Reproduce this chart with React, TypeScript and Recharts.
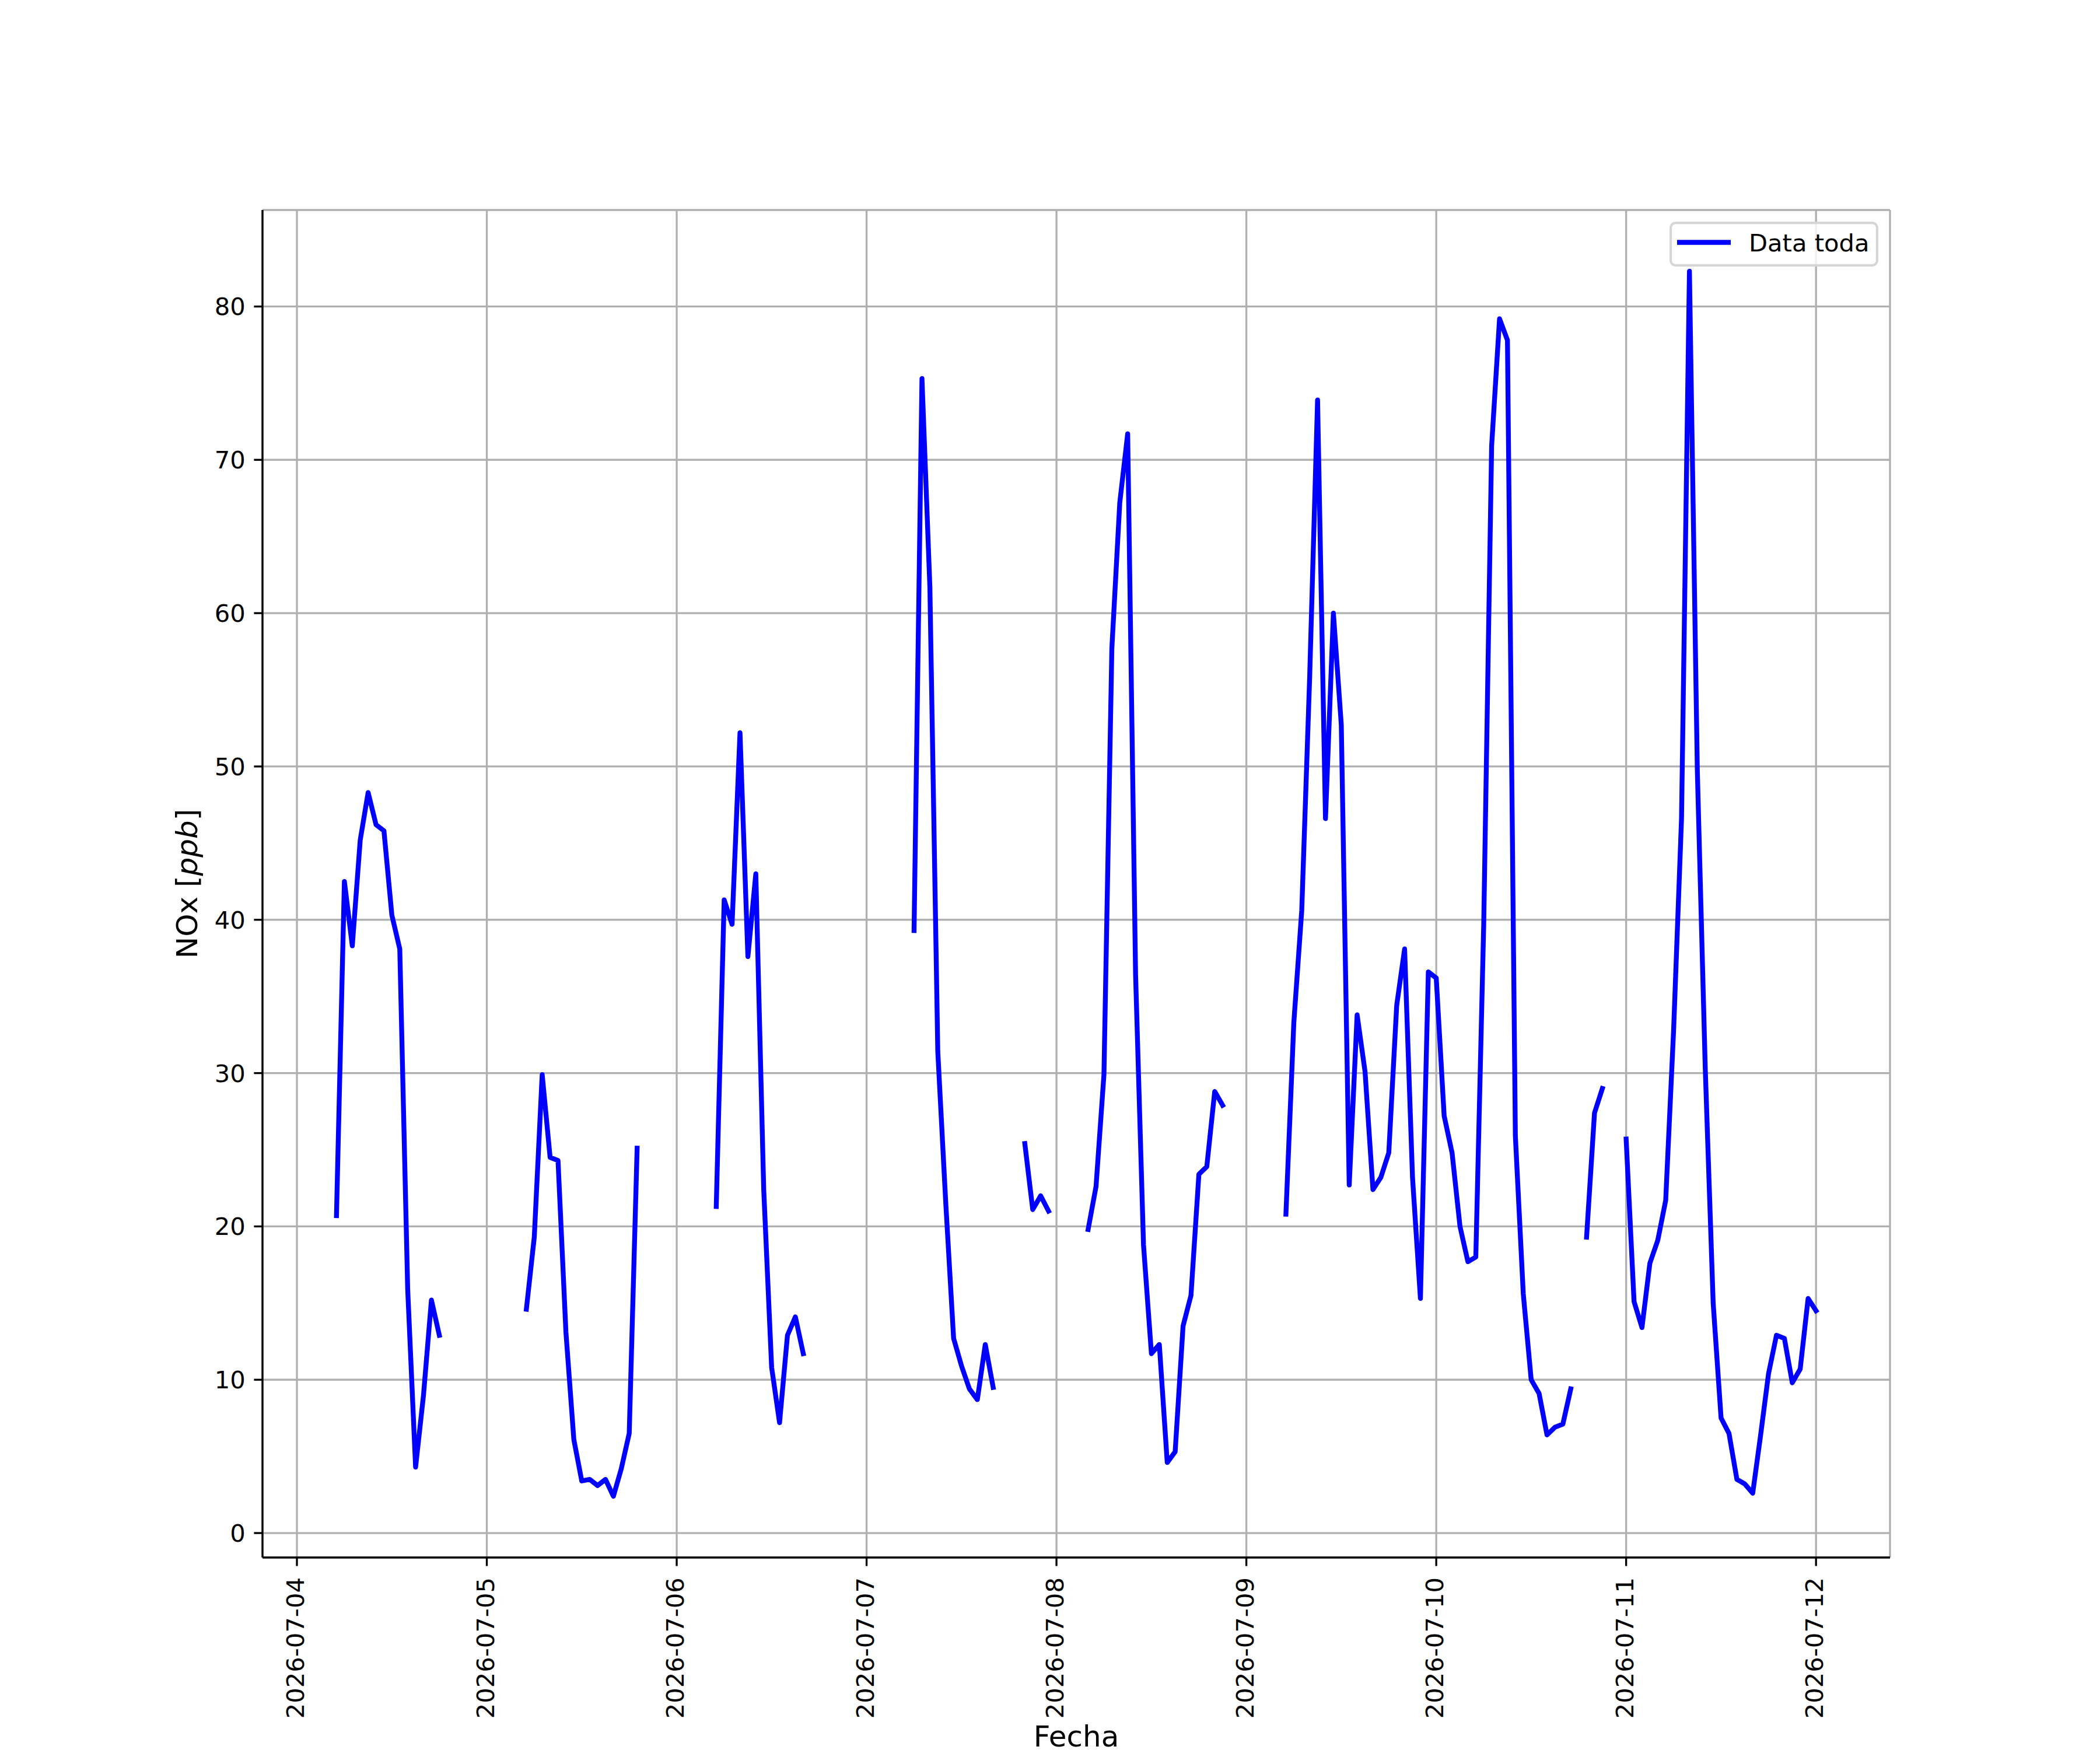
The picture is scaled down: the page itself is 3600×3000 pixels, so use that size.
import React from "react";
import { CartesianGrid, Label, Legend, Line, LineChart, XAxis, YAxis } from "recharts";

const _ = null;

// NOx hourly means (ppb), one array per day, index = hour; null = no data
const nox0704 = [_, _, _, _, _, 20.7, 42.5, 38.3, 45.2, 48.3, 46.2, 45.8, 40.3, 38.1, 15.9, 4.3, 9.0, 15.2, 12.9, _, _, _, _, _];
const nox0705 = [_, _, _, _, _, 14.6, 19.3, 29.9, 24.5, 24.3, 13.1, 6.1, 3.4, 3.5, 3.1, 3.5, 2.4, 4.2, 6.5, 25.1, _, _, _, _];
const nox0706 = [_, _, _, _, _, 21.3, 41.3, 39.7, 52.2, 37.6, 43.0, 22.4, 10.8, 7.2, 12.9, 14.1, 11.7, _, _, _, _, _, _, _];
const nox0707 = [_, _, _, _, _, _, 39.3, 75.3, 61.7, 31.4, 21.6, 12.7, 10.9, 9.4, 8.7, 12.3, 9.5, _, _, _, 25.4, 21.1, 22.0, 21.0];
const nox0708 = [_, _, _, _, 19.8, 22.6, 29.9, 57.7, 67.2, 71.7, 36.4, 18.8, 11.7, 12.3, 4.6, 5.3, 13.5, 15.5, 23.4, 23.9, 28.8, 27.9, _, _];
const nox0709 = [_, _, _, _, _, 20.8, 33.3, 40.6, 55.8, 73.9, 46.6, 60.0, 52.7, 22.7, 33.8, 30.1, 22.4, 23.2, 24.8, 34.4, 38.1, 23.2, 15.3, 36.6];
const nox0710 = [36.2, 27.2, 24.8, 20.0, 17.7, 18.0, 39.7, 70.9, 79.2, 77.8, 25.9, 15.6, 10.0, 9.1, 6.4, 6.9, 7.1, 9.4, _, 19.3, 27.4, 29.0, _, _];
const nox0711 = [25.7, 15.1, 13.4, 17.6, 19.1, 21.7, 32.8, 46.6, 82.3, 49.7, 30.3, 15.0, 7.5, 6.5, 3.5, 3.2, 2.6, 6.4, 10.4, 12.9, 12.7, 9.8, 10.7, 15.3];
const nox0712 = [14.5];

const dayLabels = [
  "2026-07-04", "2026-07-05", "2026-07-06", "2026-07-07", "2026-07-08",
  "2026-07-09", "2026-07-10", "2026-07-11", "2026-07-12",
];
const dayTicks = [0, 1, 2, 3, 4, 5, 6, 7, 8];
const noxTicks = [0, 10, 20, 30, 40, 50, 60, 70, 80];

const days = [nox0704, nox0705, nox0706, nox0707, nox0708, nox0709, nox0710, nox0711, nox0712];
const data = days.flatMap((vals, d) => vals.map((v, h) => ({ t: d + h / 24, nox: v })));

const xDomain = [-0.18125, 8.38958];
const yDomain = [-1.595, 86.295];

const FONT = "DejaVu Sans";
const TICK_FS = 41.67;
const LABEL_FS = 50;
const LW = 3.33;
const DATA_LW = 8.33;
const spine = { stroke: "#000", strokeWidth: LW };

function DateTick(props: any) {
  const { x, y, payload } = props;
  const bx = x + 12;
  return (
    <text x={bx} y={y} transform={`rotate(-90, ${bx}, ${y})`} textAnchor="end"
      fontSize={TICK_FS} fontFamily={FONT} fill="#000">
      {dayLabels[payload.value]}
    </text>
  );
}

function NoxTick(props: any) {
  const { x, y, payload } = props;
  return (
    <text x={x} y={y} dy="0.36em" textAnchor="end" fontSize={TICK_FS} fontFamily={FONT} fill="#000">
      {payload.value}
    </text>
  );
}

function FechaLabel(props: any) {
  const vb = props.viewBox ?? { x: 450, y: 2670, width: 2790, height: 300 };
  return (
    <text x={vb.x + vb.width / 2} y={vb.y + 324} textAnchor="middle" fontSize={LABEL_FS} fontFamily={FONT} fill="#000">
      Fecha
    </text>
  );
}

function NoxLabel(props: any) {
  const vb = props.viewBox ?? { x: 300, y: 360, width: 150, height: 2310 };
  const lx = vb.x + 38;
  const ly = vb.y + vb.height / 2;
  return (
    <text x={lx} y={ly} transform={`rotate(-90, ${lx}, ${ly})`} textAnchor="middle"
      fontSize={LABEL_FS} fontFamily={FONT} fill="#000">
      <tspan>NOx [</tspan>
      <tspan fontStyle="italic">ppb</tspan>
      <tspan>]</tspan>
    </text>
  );
}

function LegendBox(props: any) {
  const name = props.payload?.[0]?.value ?? "Data toda";
  return (
    <svg width={358} height={77} style={{ display: "block" }}>
      <rect x={2.1} y={2.1} width={353.8} height={72.8} rx={8.3}
        fill="rgba(255,255,255,0.8)" stroke="#d6d6d6" strokeWidth={4.17} />
      <line x1={13} x2={105} y1={35.5} y2={35.5} stroke="#0000ff" strokeWidth={DATA_LW} />
      <text x={136} y={51} fontSize={TICK_FS} fontFamily={FONT} fill="#000">{name}</text>
    </svg>
  );
}

export default function App() {
  return (
    <div style={{ position: "absolute", left: 0, top: 0, width: 3600, height: 3000, background: "#fff" }}>
      <LineChart width={3600} height={3000} data={data}
        margin={{ top: 360, right: 360, bottom: 30, left: 300 }}>
        <CartesianGrid stroke="#b0b0b0" strokeWidth={LW} />
        <XAxis dataKey="t" type="number" domain={xDomain} allowDataOverflow ticks={dayTicks} interval={0}
          height={300} tickSize={14.6} tickMargin={19.5} tick={<DateTick />}
          tickLine={spine} axisLine={spine}>
          <Label content={FechaLabel} />
        </XAxis>
        <XAxis xAxisId="top" orientation="top" type="number" domain={xDomain} allowDataOverflow
          height={0} tick={false} tickLine={false} axisLine={spine} />
        <YAxis type="number" domain={yDomain} allowDataOverflow ticks={noxTicks} interval={0}
          width={150} tickSize={14.6} tickMargin={14.6} tick={<NoxTick />}
          tickLine={spine} axisLine={spine}>
          <Label content={NoxLabel} />
        </YAxis>
        <YAxis yAxisId="right" orientation="right" type="number" domain={yDomain} allowDataOverflow
          width={0} tick={false} tickLine={false} axisLine={spine} />
        <Legend layout="horizontal" verticalAlign="middle" align="center" content={LegendBox}
          wrapperStyle={{ left: 2862, top: 380, width: 358, height: 77, margin: 0, padding: 0 }} />
        <Line dataKey="nox" name="Data toda" type="linear" stroke="#0000ff" strokeWidth={DATA_LW}
          dot={false} activeDot={false} connectNulls={false} isAnimationActive={false}
          strokeLinecap="square" strokeLinejoin="round" />
      </LineChart>
    </div>
  );
}
